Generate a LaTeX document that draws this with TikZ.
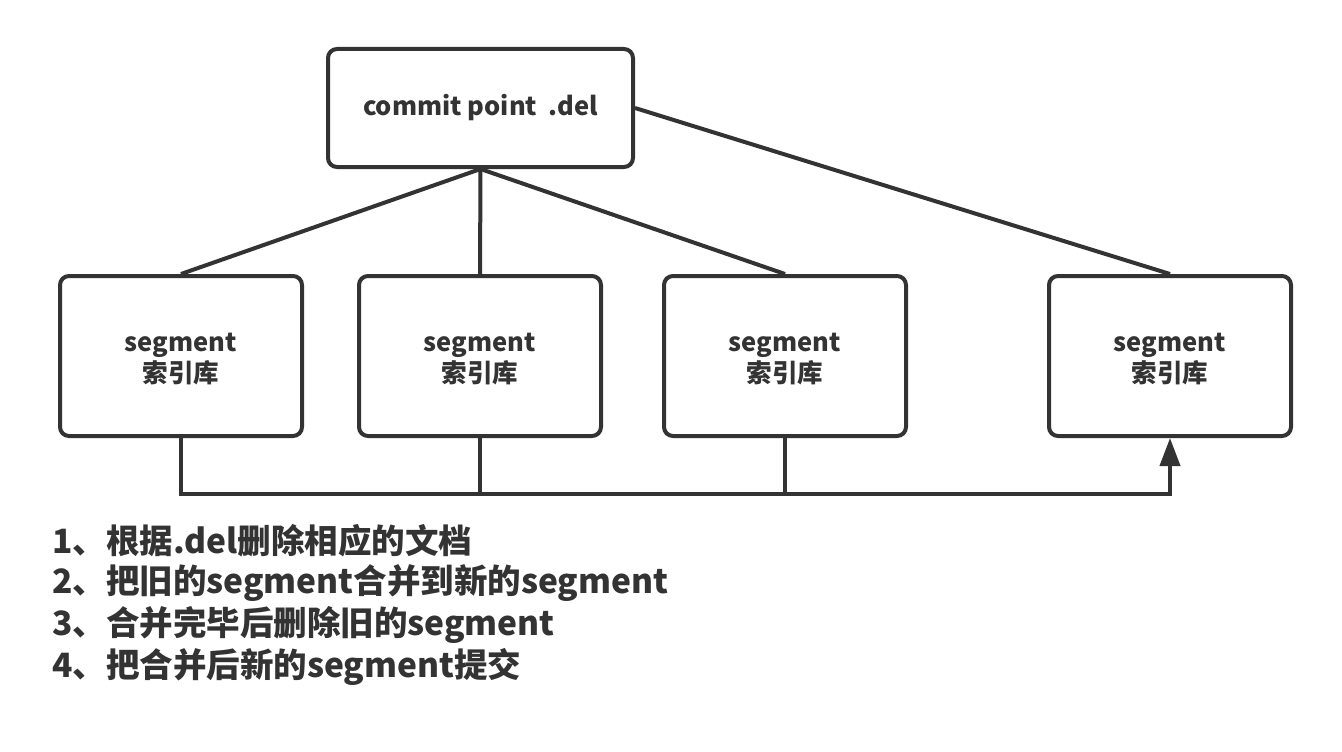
\documentclass[tikz,border=0pt]{standalone}
\usepackage{fontspec}
\newfontfamily\cjk{Noto Sans CJK SC}
\usetikzlibrary{arrows.meta}
\definecolor{ink}{HTML}{333333}
\begin{document}
\begin{tikzpicture}[x=1pt,y=-1pt,
  box/.style={draw=ink,line width=4pt,rounded corners=9pt,minimum width=242pt,minimum height=160pt,inner sep=0pt},
  segtext/.style={label={[align=center,font=\cjk\bfseries\fontsize{25.5}{31}\selectfont,text=ink,inner sep=0pt,yshift=-3pt]center:segment\\索引库}},
  conn/.style={draw=ink,line width=4pt},
  note/.style={anchor=west,font=\cjk\bfseries\fontsize{33.5}{38}\selectfont,text=ink,inner sep=0pt}]
\path[fill=white] (0,0) rectangle (1342,752);
\useasboundingbox (0,0) rectangle (1342,752);
\node[box,minimum width=305pt,minimum height=118pt,font=\cjk\bfseries\fontsize{25.5}{31}\selectfont,text=ink] (cp) at (480.5,108) {commit point\ \ .del};
\node[box,segtext] (s1) at (181,356) {};
\node[box,segtext] (s2) at (480,356) {};
\node[box,segtext] (s3) at (785,356) {};
\node[box,segtext] (s4) at (1170,356) {};
\draw[conn] (cp.south) -- (s1.north);
\draw[conn] (cp.south) -- (s2.north);
\draw[conn] (cp.south) -- (s3.north);
\draw[conn] (cp.east) -- (s4.north);
\coordinate (b1) at (181,494);
\coordinate (b4) at (1170,494);
\draw[conn,-{Triangle[length=28pt,width=20pt]}] (s1.south) -- (b1) -- (b4) -- (s4.south);
\draw[conn] (s2.south) -- (s2.south |- b1);
\draw[conn] (s3.south) -- (s3.south |- b1);
\node[note] (n1) at (52,541) {1、根据.del删除相应的文档};
\node[note] (n2) at (52,583) {2、把旧的segment合并到新的segment};
\node[note] (n3) at (52,625) {3、合并完毕后删除旧的segment};
\node[note] (n4) at (52,667) {4、把合并后新的segment提交};
\end{tikzpicture}
\end{document}
